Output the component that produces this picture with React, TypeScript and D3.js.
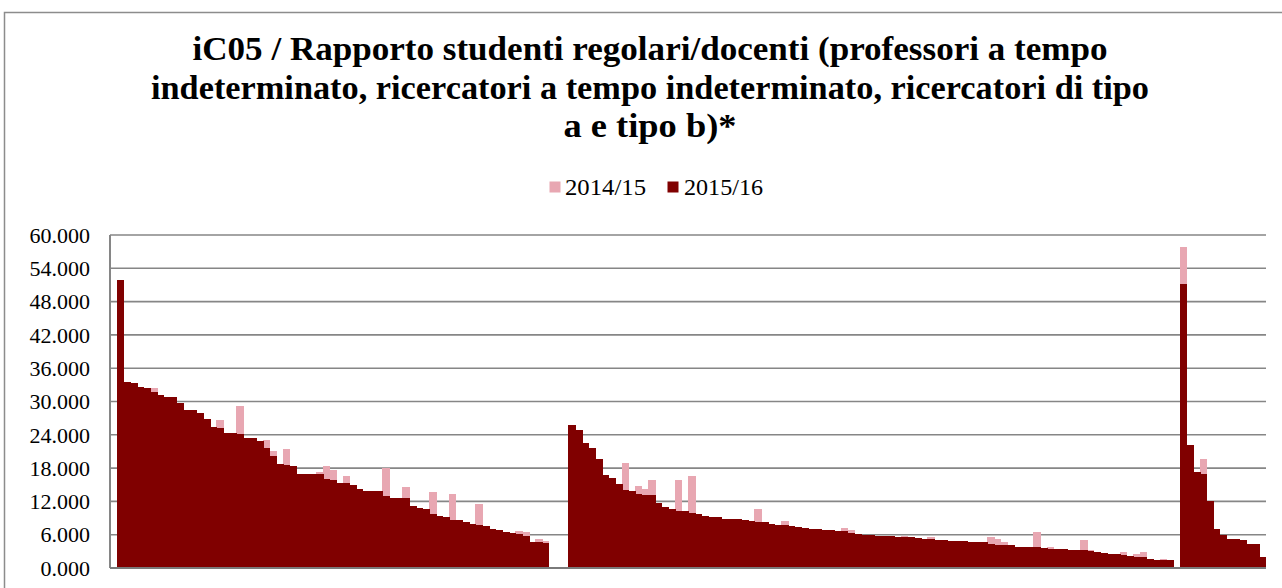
import React from 'react'
import * as d3 from 'd3'

const W = 1282
const H = 588

const titleLines = [
  'iC05 / Rapporto studenti regolari/docenti (professori a tempo',
  'indeterminato, ricercatori a tempo indeterminato, ricercatori di tipo',
  'a e tipo b)*'
]
// measured line widths of the title in the original
const titleWidths = [915, 998, 173]
const seriesNames = ['2014/15', '2015/16']
const yTicks = [0, 6, 12, 18, 24, 30, 36, 42, 48, 54, 60]

// first block of courses (sorted by 2015/16)
const group1Cur = [
  51.9, 33.6, 33.3, 32.7, 32.4, 31.7, 31.2, 30.8, 30.8, 29.7,
  28.5, 28.4, 27.9, 26.9, 25.4, 25.2, 24.4, 24.3, 24.1, 23.5,
  23.4, 22.8, 21.6, 20.1, 18.8, 18.5, 18.3, 17.0, 16.9, 16.9,
  17.0, 16.1, 15.9, 15.3, 15.3, 14.9, 14.2, 13.9, 13.9, 13.9,
  12.9, 12.7, 12.7, 12.7, 11.1, 10.8, 10.7, 9.8, 9.3, 9.2,
  8.7, 8.6, 8.3, 8.0, 7.7, 7.5, 7.1, 6.8, 6.4, 6.3,
  6.2, 5.8, 4.7, 4.7, 4.5
]
const group1Prev = [
  51.0, 33.0, 32.8, 32.0, 32.0, 32.4, 30.8, 30.2, 30.5, 29.0,
  28.0, 28.0, 27.5, 26.5, 25.0, 26.6, 24.0, 24.0, 29.1, 23.0,
  23.0, 22.5, 23.0, 21.1, 18.5, 21.4, 18.0, 16.8, 16.5, 16.5,
  17.3, 18.4, 17.6, 15.0, 16.6, 14.5, 14.0, 13.5, 13.5, 13.5,
  18.1, 12.5, 12.5, 14.6, 10.8, 10.5, 10.5, 13.7, 9.0, 9.0,
  13.3, 8.4, 8.0, 7.8, 11.6, 7.2, 7.0, 6.5, 6.2, 6.0,
  6.7, 6.5, 4.5, 5.2, 4.9
]

// second block
const group2Cur = [
  25.8, 24.8, 22.6, 21.6, 19.6, 16.8, 16.2, 15.1, 14.0, 13.9,
  13.3, 13.2, 13.1, 11.7, 11.0, 10.7, 10.3, 10.2, 9.9, 9.7,
  9.4, 9.2, 9.1, 8.9, 8.8, 8.8, 8.7, 8.4, 8.3, 8.2,
  7.9, 7.7, 7.7, 7.5, 7.3, 7.2, 7.1, 7.0, 6.9, 6.9,
  6.7, 6.6, 6.3, 6.1, 6.0, 5.9, 5.8, 5.7, 5.7, 5.6,
  5.6, 5.5, 5.4, 5.3, 5.2, 5.0, 5.0, 4.9, 4.8, 4.8,
  4.7, 4.6, 4.6, 4.3, 4.2, 4.1, 4.1, 3.8, 3.8, 3.7,
  3.7, 3.6, 3.5, 3.5, 3.4, 3.3, 3.2, 3.2, 3.0, 2.8,
  2.7, 2.6, 2.6, 2.3, 2.2, 2.0, 2.0, 1.6, 1.5, 1.4,
  1.4
]
const group2Prev = [
  25.0, 24.0, 22.0, 21.0, 19.0, 16.5, 16.0, 15.0, 18.9, 13.5,
  14.8, 14.2, 15.8, 11.5, 10.8, 10.5, 15.9, 10.0, 16.6, 9.5,
  9.2, 9.0, 9.0, 8.7, 8.6, 8.6, 8.5, 8.2, 10.6, 8.0,
  7.8, 7.5, 8.5, 7.3, 7.1, 7.0, 7.0, 6.8, 6.7, 6.7,
  6.5, 7.2, 6.9, 6.0, 5.8, 5.7, 5.6, 5.5, 5.5, 5.4,
  5.8, 5.3, 5.2, 5.1, 5.6, 4.9, 4.8, 4.7, 4.6, 4.6,
  4.5, 4.5, 4.4, 5.5, 5.2, 4.7, 4.0, 3.6, 3.6, 3.5,
  6.5, 3.5, 3.8, 3.4, 3.3, 3.2, 3.1, 5.0, 3.3, 2.7,
  2.6, 2.5, 2.5, 2.9, 2.1, 2.5, 2.8, 1.5, 1.4, 1.6,
  1.3
]

// third block
const group3Cur = [51.2, 22.1, 17.3, 17.0, 12.1, 7.1, 5.9, 5.3, 5.2, 5.0, 4.3, 4.3, 2.0]
const group3Prev = [57.8, 21.5, 17.0, 19.6, 11.8, 7.0, 5.7, 5.2, 5.3, 4.9, 4.2, 4.2, 1.9]

type Row = { key: number; prev: number | null; cur: number | null }

const gap = (n: number) => d3.range(n).map(() => ({ prev: null, cur: null }))
const block = (prev: number[], cur: number[]) => cur.map((c, i) => ({ prev: prev[i], cur: c }))

const rows: Row[] = [
  ...gap(1),
  ...block(group1Prev, group1Cur),
  ...gap(3),
  ...block(group2Prev, group2Cur),
  ...gap(1),
  ...block(group3Prev, group3Cur)
].map((d, i) => ({ key: i, ...d }))

const PINK = '#e8a7b2'
const DARK = '#800000'
const GRID = '#868686'
const SERIF = '"Liberation Serif", "DejaVu Serif", serif'

export default function App() {
  const left = 110
  const right = 1266
  const top = 235
  const bottom = 568

  const x = d3.scaleBand<number>().domain(rows.map(d => d.key)).range([left, right]).padding(0)
  const y = d3.scaleLinear().domain([0, 60]).range([bottom, top])
  const fmt = d3.format('.3f')
  // bars touch each other (gap width 0); a bit of overlap hides the seams
  const bw = x.bandwidth() + 1
  const lastKey = rows[rows.length - 1].key
  const barW = (k: number) => (k === lastKey ? x.bandwidth() : bw)

  return (
    <svg width={W} height={H} style={{ position: 'absolute', left: 0, top: 0, background: '#fff' }}>
      <rect x={4.5} y={12.5} width={1300} height={600} fill='#fff' stroke='#8c8c8c' strokeWidth={1.5} />

      {titleLines.map((t, i) => (
        <text key={i} x={650} y={60 + i * 38.5} textAnchor='middle' fontFamily={SERIF}
          fontWeight='bold' fontSize={33} fill='#000'
          textLength={titleWidths[i]} lengthAdjust='spacingAndGlyphs'>{t}</text>
      ))}

      <g fontFamily={SERIF} fontSize={23}>
        <rect x={549.5} y={181.5} width={11} height={11} fill={PINK} />
        <text x={565} y={195} textLength={81} lengthAdjust='spacingAndGlyphs'>{seriesNames[0]}</text>
        <rect x={667.5} y={181.5} width={11} height={11} fill={DARK} />
        <text x={684} y={195} textLength={79} lengthAdjust='spacingAndGlyphs'>{seriesNames[1]}</text>
      </g>

      {yTicks.map(t => (
        <g key={t}>
          {t > 0 && <line x1={left} x2={right} y1={y(t)} y2={y(t)} stroke={GRID} strokeWidth={1.6} />}
          <text x={90} y={y(t)} dy='0.35em' textAnchor='end' fontFamily={SERIF} fontSize={22} fill='#000'>{fmt(t)}</text>
        </g>
      ))}

      <g shapeRendering='crispEdges'>
        {rows.filter(d => d.prev != null).map(d => (
          <rect key={'p' + d.key} x={x(d.key)} y={y(d.prev as number)} width={barW(d.key)}
            height={bottom - y(d.prev as number)} fill={PINK} />
        ))}
        {rows.filter(d => d.cur != null).map(d => (
          <rect key={'c' + d.key} x={x(d.key)} y={y(d.cur as number)} width={barW(d.key)}
            height={bottom - y(d.cur as number)} fill={DARK} />
        ))}
      </g>

      <line x1={left} x2={left} y1={top} y2={bottom} stroke={GRID} strokeWidth={2} />
      <line x1={left} x2={right} y1={bottom} y2={bottom} stroke='#7a7a7a' strokeWidth={2} />
    </svg>
  )
}
